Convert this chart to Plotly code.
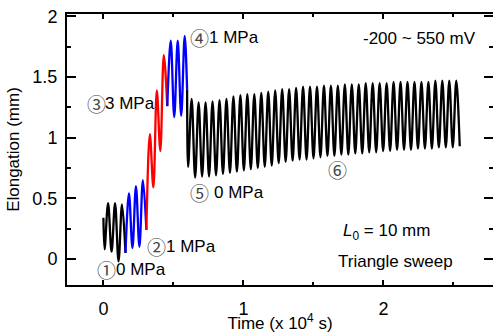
import plotly.graph_objects as go

# ---------------- data ----------------
HALF_PERIOD = 0.02487   # half of one triangle-sweep cycle (x10^4 s)
T_FIRST = 0.0086        # time of the first turning point (x10^4 s)

start_time = 0.0
start_value = 0.34
# (1) 0 MPa, black: turning points k = 0..6
seg1_vals = [0.08, 0.46, 0.06, 0.46, -0.02, 0.45, 0.05]
# (2) 1 MPa, blue: k = 6..12
seg2_vals = [0.05, 0.54, 0.09, 0.60, 0.10, 0.65, 0.24]
# (3) 3 MPa, red: k = 12..18
seg3_vals = [0.24, 1.03, 0.59, 1.39, 0.89, 1.68, 1.26]
# (4) 1 MPa, blue: k = 18..23, then the point where the black trace resumes
seg4_vals = [1.26, 1.80, 1.17, 1.80, 1.18, 1.84]
switch_time = 0.598
switch_value = 1.40
# (5)/(6) 0 MPa, black: troughs k = 24, 26, ..., 102 ; peaks k = 25, 27, ..., 101
black_troughs = [0.76, 0.67, 0.68, 0.68, 0.69, 0.70, 0.71, 0.72, 0.73, 0.74,
                 0.75, 0.76, 0.77, 0.79, 0.80, 0.81, 0.82, 0.82, 0.83, 0.84,
                 0.85, 0.85, 0.86, 0.86, 0.87, 0.87, 0.88, 0.88, 0.89, 0.89,
                 0.90, 0.90, 0.90, 0.91, 0.91, 0.91, 0.92, 0.92, 0.92, 0.93]
black_peaks = [1.32, 1.29, 1.29, 1.30, 1.31, 1.32, 1.34, 1.35, 1.36, 1.36,
               1.37, 1.38, 1.39, 1.40, 1.40, 1.41, 1.42, 1.42, 1.42, 1.43,
               1.43, 1.43, 1.44, 1.44, 1.44, 1.45, 1.45, 1.45, 1.45, 1.46,
               1.46, 1.46, 1.46, 1.46, 1.46, 1.47, 1.47, 1.47, 1.47]

x_tickvals = [0, 1, 2]
x_ticktext = ["0", "1", "2"]
y_tickvals = [0, 0.5, 1, 1.5, 2]
y_ticktext = ["0", "0.5", "1", "1.5", "2"]

# ---------------- build traces ----------------
def t(k):
    return T_FIRST + HALF_PERIOD * k

x1 = [start_time] + [t(k) for k in range(0, 7)]
y1 = [start_value] + seg1_vals
x2 = [t(k) for k in range(6, 13)]
y2 = seg2_vals
x3 = [t(k) for k in range(12, 19)]
y3 = seg3_vals
x4 = [t(k) for k in range(18, 24)] + [switch_time]
y4 = seg4_vals + [switch_value]

y5 = [switch_value]
for i in range(len(black_troughs)):
    y5.append(black_troughs[i])
    if i < len(black_peaks):
        y5.append(black_peaks[i])
x5 = [switch_time] + [t(k) for k in range(24, 24 + len(y5) - 1)]

FONT = "Liberation Sans, Arial, Helvetica, sans-serif"
CJK = "Noto Sans CJK JP, DejaVu Sans, sans-serif"

fig = go.Figure()
for xs, ys, col in [(x1, y1, "#000000"), (x2, y2, "#0000ff"), (x3, y3, "#ff0000"),
                    (x4, y4, "#0000ff"), (x5, y5, "#000000")]:
    fig.add_trace(go.Scatter(x=xs, y=ys, mode="lines",
                             line=dict(color=col, width=2.3, shape="spline", smoothing=1.0),
                             showlegend=False, hoverinfo="skip"))

annots = [
    ("\u2460", -0.043, -0.091, True), ("0 MPa", 0.086, -0.091, False),
    ("\u2461", 0.314, 0.101, True), ("1 MPa", 0.443, 0.101, False),
    ("\u2462", -0.114, 1.286, True), ("3 MPa", 0.007, 1.286, False),
    ("\u2463", 0.621, 1.83, True), ("1 MPa", 0.75, 1.83, False),
    ("\u2464", 0.621, 0.544, True), ("0 MPa", 0.786, 0.544, False),
    ("\u2465", 1.607, 0.734, True),
    ("-200 ~ 550 mV", 1.85, 1.822, False),
    ("<i>L</i><sub>0</sub> = 10 mm", 1.707, 0.223, False),
    ("Triangle sweep", 1.671, -0.025, False),
]
for txt, ax, ay, circ in annots:
    fig.add_annotation(x=ax - (0.02 if circ else 0.012), y=ay, text=txt, showarrow=False,
                       xanchor="left", yanchor="middle",
                       font=dict(family=CJK if circ else FONT,
                                 size=19 if circ else 17,
                                 color="#444444" if circ else "#000000"))

fig.update_xaxes(range=[-0.26, 2.783], tickvals=x_tickvals, ticktext=x_ticktext,
                 ticks="inside", ticklen=5, tickwidth=2, tickcolor="black",
                 minor=dict(dtick=0.5, tick0=0, ticks="inside", ticklen=3, tickwidth=2,
                            tickcolor="black"),
                 showline=True, linewidth=2, linecolor="black", mirror="ticks",
                 showgrid=False, zeroline=False,
                 tickfont=dict(family=FONT, size=18, color="black"),
                 ticklabelstandoff=6,
                 title=dict(text="Time (x 10<sup>4</sup> s)", standoff=9,
                            font=dict(family=FONT, size=17, color="black")))
fig.update_yaxes(range=[-0.215, 2.02], tickvals=y_tickvals, ticktext=y_ticktext,
                 ticks="inside", ticklen=9, tickwidth=2, tickcolor="black",
                 minor=dict(dtick=0.25, tick0=0, ticks="inside", ticklen=4, tickwidth=2,
                            tickcolor="black"),
                 showline=True, linewidth=2, linecolor="black", mirror="ticks",
                 showgrid=False, zeroline=False,
                 tickfont=dict(family=FONT, size=18, color="black"),
                 ticklabelstandoff=4,
                 title=dict(text="Elongation (mm)", standoff=8,
                            font=dict(family=FONT, size=17, color="black")))

fig.update_layout(width=493, height=333,
                  margin=dict(l=67, r=0, t=14, b=48, autoexpand=False),
                  plot_bgcolor="white", paper_bgcolor="white")

fig.write_html("out.html", config={"displayModeBar": False},
               post_script="document.body.style.margin='0';document.body.style.overflow='hidden';")
